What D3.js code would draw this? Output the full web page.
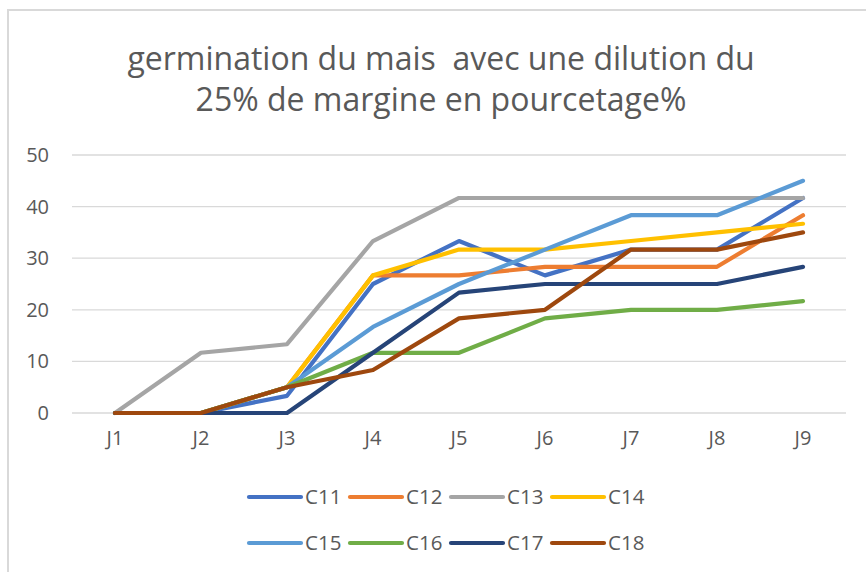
<!DOCTYPE html>
<html>
<head>
<meta charset="utf-8">
<script src="https://cdn.jsdelivr.net/npm/d3@7"></script>
<style>
  html, body { margin: 0; padding: 0; background: #fff; }
  svg { display: block; }
  text { font-family: "Open Sans", Lato, sans-serif; fill: #595959; }
</style>
</head>
<body>
<svg id="chart" width="866" height="572"></svg>
<script>
const categories = ["J1", "J2", "J3", "J4", "J5", "J6", "J7", "J8", "J9"];
const seriesNames = ["C11", "C12", "C13", "C14", "C15", "C16", "C17", "C18"];
const C11 = [0, 0, 3.33, 25, 33.33, 26.67, 31.67, 31.67, 41.67];
const C12 = [0, 0, 5, 26.67, 26.67, 28.33, 28.33, 28.33, 38.33];
const C13 = [0, 11.67, 13.33, 33.33, 41.67, 41.67, 41.67, 41.67, 41.67];
const C14 = [0, 0, 5, 26.67, 31.67, 31.67, 33.33, 35, 36.67];
const C15 = [0, 0, 5, 16.67, 25, 31.67, 38.33, 38.33, 45];
const C16 = [0, 0, 5, 11.67, 11.67, 18.33, 20, 20, 21.67];
const C17 = [0, 0, 0, 11.67, 23.33, 25, 25, 25, 28.33];
const C18 = [0, 0, 5, 8.33, 18.33, 20, 31.67, 31.67, 35];
const yTicks = [0, 10, 20, 30, 40, 50];
const colors = ["#4472C4", "#ED7D31", "#A5A5A5", "#FFC000", "#5B9BD5", "#70AD47", "#264478", "#9E480E"];
const titleLines = ["germination du mais  avec une dilution du", "25% de margine en pourcetage%"];

const seriesValues = [C11, C12, C13, C14, C15, C16, C17, C18];
const series = seriesNames.map((n, i) => ({ name: n, values: seriesValues[i], color: colors[i] }));

const svg = d3.select("#chart");

// chart border
svg.append("rect")
  .attr("x", 8).attr("y", 10).attr("width", 870).attr("height", 580)
  .attr("fill", "#fff").attr("stroke", "#d9d9d9").attr("stroke-width", 2);

// title
svg.append("g").selectAll("text").data(titleLines).join("text")
  .attr("x", 441).attr("y", (d, i) => 70 + i * 41)
  .attr("text-anchor", "middle")
  .style("font-size", "32px")
  .style("white-space", "pre")
  .attr("xml:space", "preserve")
  .text(d => d);

const x = d3.scaleBand().domain(categories).range([72, 846]);
const y = d3.scaleLinear().domain([0, 50]).range([413, 155]);

// gridlines
svg.append("g").selectAll("line").data(yTicks).join("line")
  .attr("x1", 72).attr("x2", 846)
  .attr("y1", d => y(d)).attr("y2", d => y(d))
  .attr("stroke", "#d9d9d9").attr("stroke-width", 1.3);

// y axis
const yAxis = svg.append("g").attr("transform", "translate(49,0)")
  .call(d3.axisLeft(y).tickValues(yTicks).tickSize(0).tickPadding(0));
yAxis.select(".domain").remove();
yAxis.selectAll("text").style("font-size", "20px").attr("fill", "#595959")
  .style("font-family", "'Open Sans', sans-serif");

// x axis
const xAxis = svg.append("g").attr("transform", "translate(0,431)")
  .call(d3.axisBottom(x).tickSize(0).tickPadding(0));
xAxis.select(".domain").remove();
xAxis.selectAll("text").style("font-size", "20px").attr("fill", "#595959")
  .style("font-family", "'Open Sans', sans-serif");

// lines
const line = d3.line()
  .x((d, i) => x(categories[i]) + x.bandwidth() / 2)
  .y(d => y(d));

svg.append("g").selectAll("path").data(series).join("path")
  .attr("d", d => line(d.values))
  .attr("fill", "none")
  .attr("stroke", d => d.color)
  .attr("stroke-width", 4.2)
  .attr("stroke-linejoin", "round")
  .attr("stroke-linecap", "round");

// legend
const legend = svg.append("g");
const items = legend.selectAll("g").data(series).join("g")
  .attr("transform", (d, i) => `translate(${249 + (i % 4) * 101},${497 + Math.floor(i / 4) * 46})`);
items.append("line")
  .attr("x1", 0).attr("x2", 52).attr("y1", 0).attr("y2", 0)
  .attr("stroke", d => d.color).attr("stroke-width", 4.2).attr("stroke-linecap", "round");
items.append("text")
  .attr("x", 56).attr("y", 0).attr("dy", "0.36em")
  .style("font-size", "20.5px")
  .text(d => d.name);
</script>
</body>
</html>
